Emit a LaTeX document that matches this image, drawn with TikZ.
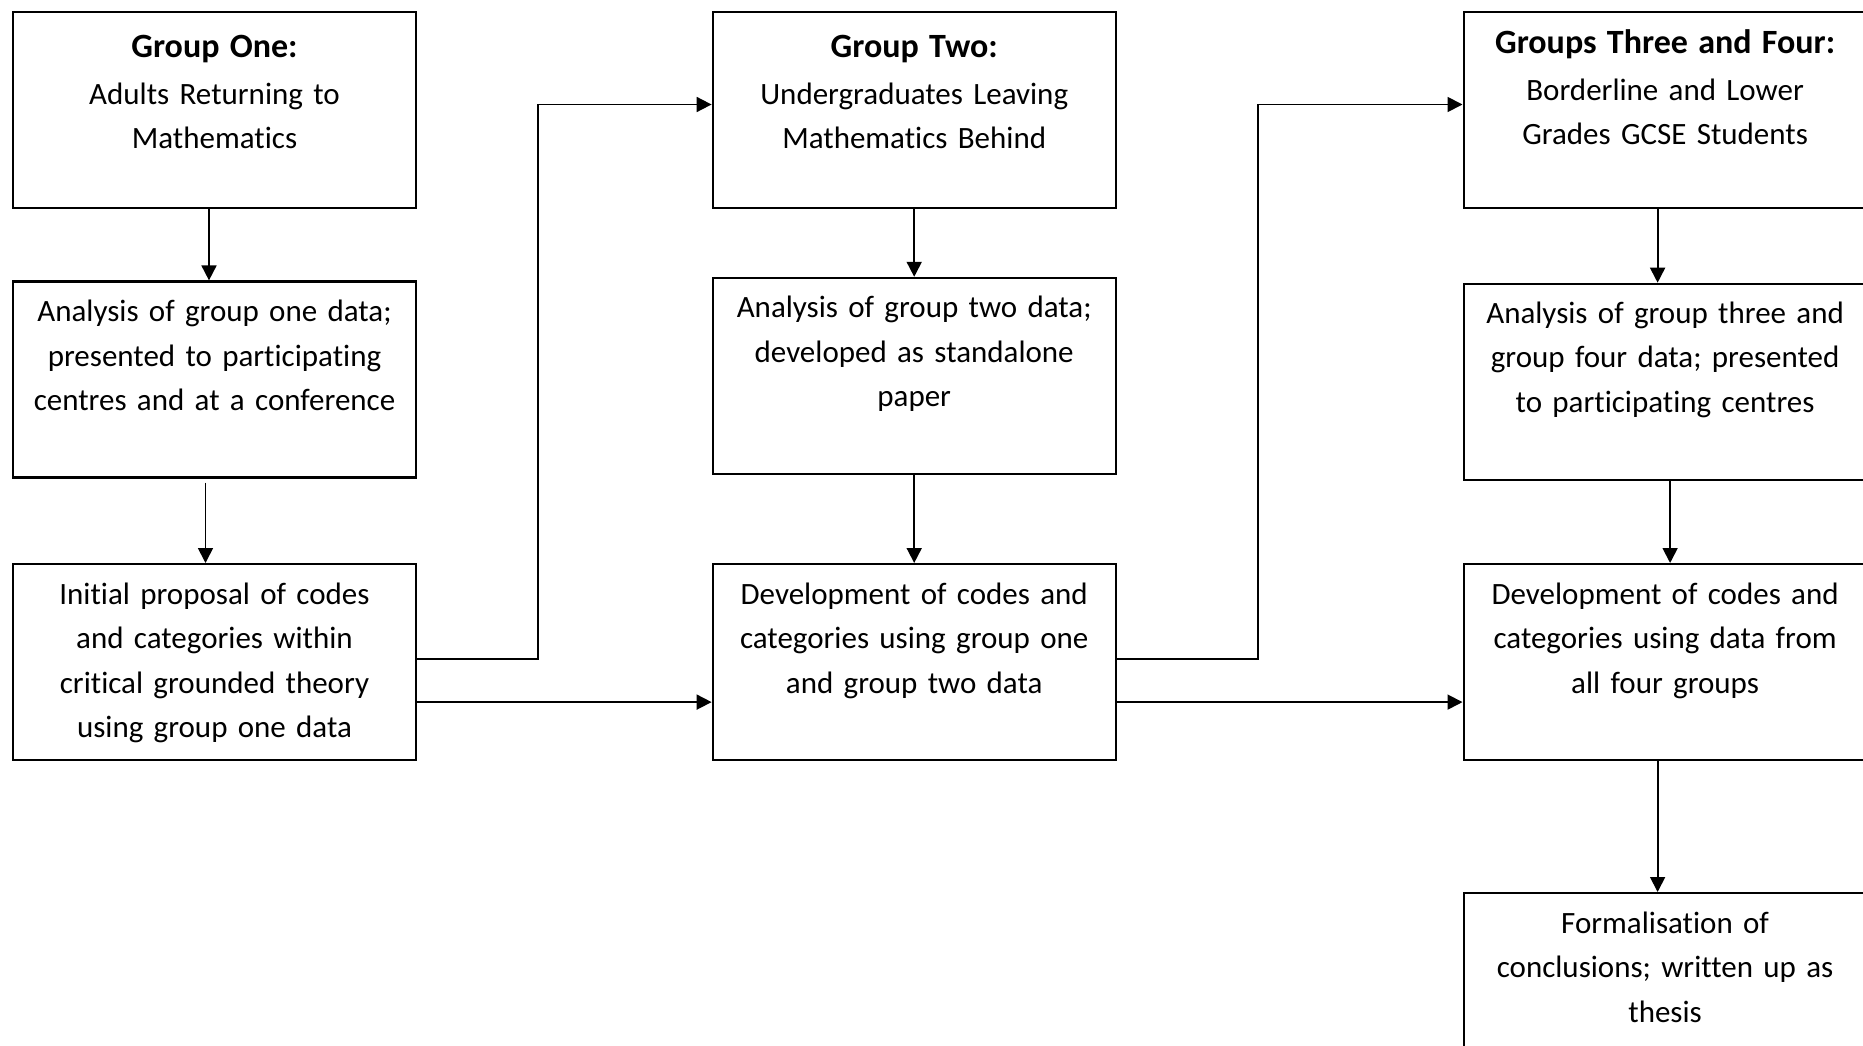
\documentclass[tikz,border=0pt]{standalone}
\usepackage{fontspec}
\setmainfont{Carlito}[Ligatures=NoCommon]
\usetikzlibrary{arrows.meta,calc}
\tikzset{
  box/.style={draw, line width=2.2pt, minimum width=403pt, minimum height=196pt, inner sep=0pt, anchor=north west},
  txt/.style={anchor=base, text width=400pt, align=center, inner sep=0pt, font=\fontsize{31}{44.5}\selectfont},
  arr/.style={line width=1.8pt, -{Triangle[length=15pt,width=15pt]}},
}
\newcommand{\hd}[1]{{\bfseries\fontsize{34}{44.5}\selectfont #1}\\[2.5pt]}
\begin{document}
\begin{tikzpicture}[x=1pt,y=-1pt]
\useasboundingbox (0,0) rectangle (1863,1046);
\fill[white] (0,0) rectangle (1863,1046);
\clip (0,0) rectangle (1863,1046);
% boxes
\node[box] (A1) at (11.9,10.7) {};
\node[box] (A2) at (11.9,280.4) {};
\node[box] (A3) at (11.9,563) {};
\node[box] (B1) at (711.6,10.7) {};
\node[box] (B2) at (711.6,276.8) {};
\node[box] (B3) at (711.6,563) {};
\node[box] (C1) at (1462.5,10.7) {};
\node[box] (C2) at (1462.5,282.7) {};
\node[box] (C3) at (1462.5,563) {};
\node[box] (C4) at (1462.5,892) {};
% texts
\node[txt] (tA1) at ($(A1.north)+(0,46.5)$) {\hd{Group One:}Adults Returning to\\Mathematics};
\node[txt] (tA2) at ($(A2.north)+(0,41.5)$) {Analysis of group one data;\\presented to participating\\centres and at a conference};
\node[txt] (tA3) at ($(A3.north)+(0,41)$) {Initial proposal of codes\\and categories within\\critical grounded theory\\using group one data};
\node[txt] (tB1) at ($(B1.north)+(0,46.5)$) {\hd{Group Two:}Undergraduates Leaving\\Mathematics Behind};
\node[txt] (tB2) at ($(B2.north)+(0,41)$) {Analysis of group two data;\\developed as standalone\\paper};
\node[txt] (tB3) at ($(B3.north)+(0,41)$) {Development of codes and\\categories using group one\\and group two data};
\node[txt] (tC1) at ($(C1.north)+(0,42.5)$) {\hd{Groups Three and Four:}Borderline and Lower\\Grades GCSE Students};
\node[txt] (tC2) at ($(C2.north)+(0,40.5)$) {Analysis of group three and\\group four data; presented\\to participating centres};
\node[txt] (tC3) at ($(C3.north)+(0,41)$) {Development of codes and\\categories using data from\\all four groups};
\node[txt] (tC4) at ($(C4.north)+(0,41)$) {Formalisation of\\conclusions; written up as\\thesis};
% connectors
\draw[arr] ($(A1.south)+(-5.5,0)$) -- ($(A2.north)+(-5.5,0)$);
\draw[arr] ($(A2.south)+(-9,4)$) -- ($(A3.north)+(-9,0)$);
\draw[arr] ($(A3.east)+(0,-3)$) -- ++(121.2,0) |- ($(B1.west)+(0,-5.3)$);
\draw[arr] ($(A3.east)+(0,40)$) -- ($(B3.west)+(0,40)$);
\draw[arr] (B1.south) -- (B2.north);
\draw[arr] (B2.south) -- (B3.north);
\draw[arr] ($(B3.east)+(0,-3)$) -- ++(141.4,0) |- ($(C1.west)+(0,-5.3)$);
\draw[arr] ($(B3.east)+(0,40)$) -- ($(C3.west)+(0,40)$);
\draw[arr] ($(C1.south)+(-7.5,0)$) -- ($(C2.north)+(-7.5,0)$);
\draw[arr] ($(C2.south)+(5,0)$) -- ($(C3.north)+(5,0)$);
\draw[arr] ($(C3.south)+(-7.5,0)$) -- ($(C4.north)+(-7.5,0)$);
\end{tikzpicture}
\end{document}
